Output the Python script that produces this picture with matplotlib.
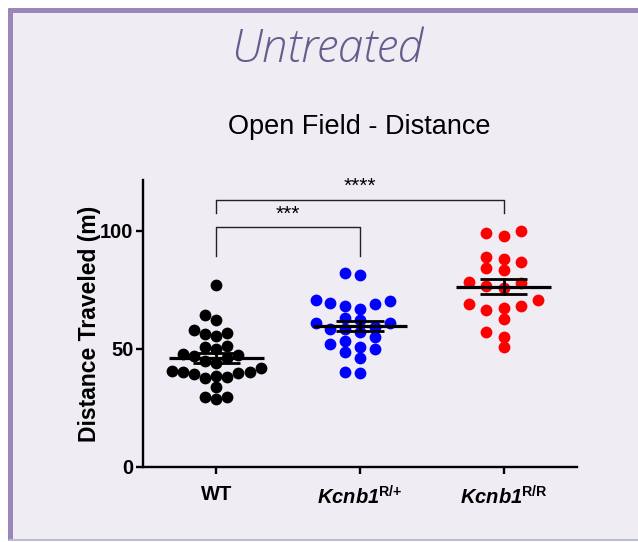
import numpy as np
import matplotlib
matplotlib.use("Agg")
import matplotlib.pyplot as plt
from matplotlib.patches import Rectangle
from matplotlib.lines import Line2D

plt.rcParams['font.family'] = ['Liberation Sans', 'DejaVu Sans']
plt.rcParams['mathtext.fontset'] = 'custom'
plt.rcParams['mathtext.rm'] = 'Liberation Sans:italic:bold'
plt.rcParams['mathtext.it'] = 'Liberation Sans:italic:bold'
plt.rcParams['mathtext.bf'] = 'Liberation Sans:bold'

# ---- data: open field distance (m) per animal ----
groups = ['WT', r'$\mathrm{Kcnb1}^{\mathbf{R/{+}}}$', r'$\mathrm{Kcnb1}^{\mathbf{R/R}}$']
wt = [77.0, 64.3, 62.3, 57.8, 56.6, 56.4, 55.5, 51.3, 51.0, 49.9, 47.8, 47.3,
      47.0, 46.0, 45.0, 43.9, 41.8, 40.8, 40.4, 40.4, 40.0, 39.3, 38.7, 38.0,
      37.6, 34.0, 29.8, 29.5, 28.8]
het = [82.1, 81.1, 70.6, 70.2, 69.6, 69.2, 68.3, 67.1, 63.0, 62.3, 60.9, 60.9,
       59.2, 58.6, 58.3, 57.3, 55.0, 53.4, 52.0, 51.0, 50.0, 48.6, 46.3, 40.4,
       40.0]
hom = [99.9, 99.2, 97.8, 89.0, 88.1, 86.6, 84.3, 83.3, 78.4, 77.8, 76.8, 75.7,
       70.5, 68.9, 68.1, 67.5, 66.4, 62.8, 57.3, 55.2, 50.7]
series = [wt, het, hom]
colors = ['#000000', '#0000FF', '#FF0000']
yticks = [0, 50, 100]
# comparisons: (group a, group b, label)
comparisons = [(0, 1, '***'), (0, 2, '****')]


def swarm_offsets(values, d=4.2, step=0.121, max_half=0.31):
    """Column scatter: place points (low to high) at the free slot nearest the centre."""
    vals = np.asarray(values, dtype=float)
    order = np.argsort(vals, kind='stable')
    cands = [0.0]
    for k in range(1, 40):
        cands += [-0.5 * k, 0.5 * k]
    while True:
        offs = np.zeros(len(vals))
        px, py = [], []
        for i in order:
            for c in cands:
                x = c * step
                if all(not (abs(x - a) < 0.95 * step and abs(vals[i] - b) < d)
                       for a, b in zip(px, py)):
                    break
            offs[i] = x
            px.append(x)
            py.append(vals[i])
        if np.abs(offs).max() <= max_half + 1e-9:
            return offs
        step *= 0.96


W, H = 638, 542
fig = plt.figure(figsize=(W / 100, H / 100), dpi=100, facecolor='white')

# slide panel background and border
fig.patches.append(Rectangle((10 / W, 2 / H), 1 - 10 / W, 1 - 12 / H,
                             transform=fig.transFigure, facecolor='#EFECF3',
                             edgecolor='none', zorder=-10))
fig.add_artist(Line2D([10 / W, 10 / W], [2 / H, 1 - 8 / H], transform=fig.transFigure,
                      color='#9B86B9', lw=3.6, solid_capstyle='butt'))
fig.add_artist(Line2D([8 / W, 1], [1 - 10 / H, 1 - 10 / H], transform=fig.transFigure,
                      color='#9B86B9', lw=3.6, solid_capstyle='butt'))
fig.add_artist(Line2D([10 / W, 1], [2 / H, 2 / H], transform=fig.transFigure,
                      color='#BDBCD3', lw=1.5))

fig.text(327 / W, 1 - 50 / H, 'Untreated', ha='center', va='center',
         fontsize=33, style='italic', color='#6A5A8E',
         family=['Open Sans', 'DejaVu Sans'], fontweight='light')
fig.text(359 / W, 1 - 127 / H, 'Open Field - Distance', ha='center', va='center',
         fontsize=19.5, color='black')

ax = fig.add_axes([143 / W, 75 / H, (577 - 143) / W, (467 - 180) / H])
ax.set_facecolor('none')
ax.set_xlim(-0.51, 2.51)
ax.set_ylim(0, 121.5)

for i, (vals, c) in enumerate(zip(series, colors)):
    v = np.asarray(vals)
    x = i + swarm_offsets(v)
    ax.scatter(x, v, s=72, color=c, linewidths=0, zorder=3, clip_on=False)
    m = v.mean()
    sem = v.std(ddof=1) / np.sqrt(len(v))
    ax.plot([i - 0.33, i + 0.33], [m, m], color='black', lw=2.3, zorder=4,
            solid_capstyle='butt')
    ax.plot([i, i], [m - sem, m + sem], color='black', lw=2.0, zorder=4)
    for yy in (m - sem, m + sem):
        ax.plot([i - 0.165, i + 0.165], [yy, yy], color='black', lw=2.0, zorder=4,
                solid_capstyle='butt')

# significance brackets
bracket_levels = {(0, 1): (101.8, 89.5, 107.0), (0, 2): (113.1, 107.5, 118.8)}
for a, b, lab in comparisons:
    top, foot, ty = bracket_levels[(a, b)]
    ax.plot([a, a, b, b], [foot, top, top, foot], color='#222222', lw=1.0,
            clip_on=False, zorder=2)
    ax.text((a + b) / 2, ty, lab, ha='center', va='center', fontsize=15,
            color='black')

for s in ['top', 'right']:
    ax.spines[s].set_visible(False)
for s in ['left', 'bottom']:
    ax.spines[s].set_linewidth(1.7)
ax.spines['left'].set_bounds(0, 121.5)

ax.set_yticks(yticks)
ax.set_yticklabels([str(t) for t in yticks], fontsize=14.5, fontweight='bold')
ax.set_xticks(range(len(groups)))
ax.set_xticklabels(groups, fontsize=14.5, fontweight='bold')
ax.tick_params(axis='both', length=5, width=1.7, color='black')
ax.tick_params(axis='y', pad=2)
ax.tick_params(axis='x', pad=8)
ax.set_ylabel('Distance Traveled (m)', fontsize=16.5, fontweight='bold', labelpad=-1)

fig.savefig('out.png', dpi=100, facecolor=fig.get_facecolor())
